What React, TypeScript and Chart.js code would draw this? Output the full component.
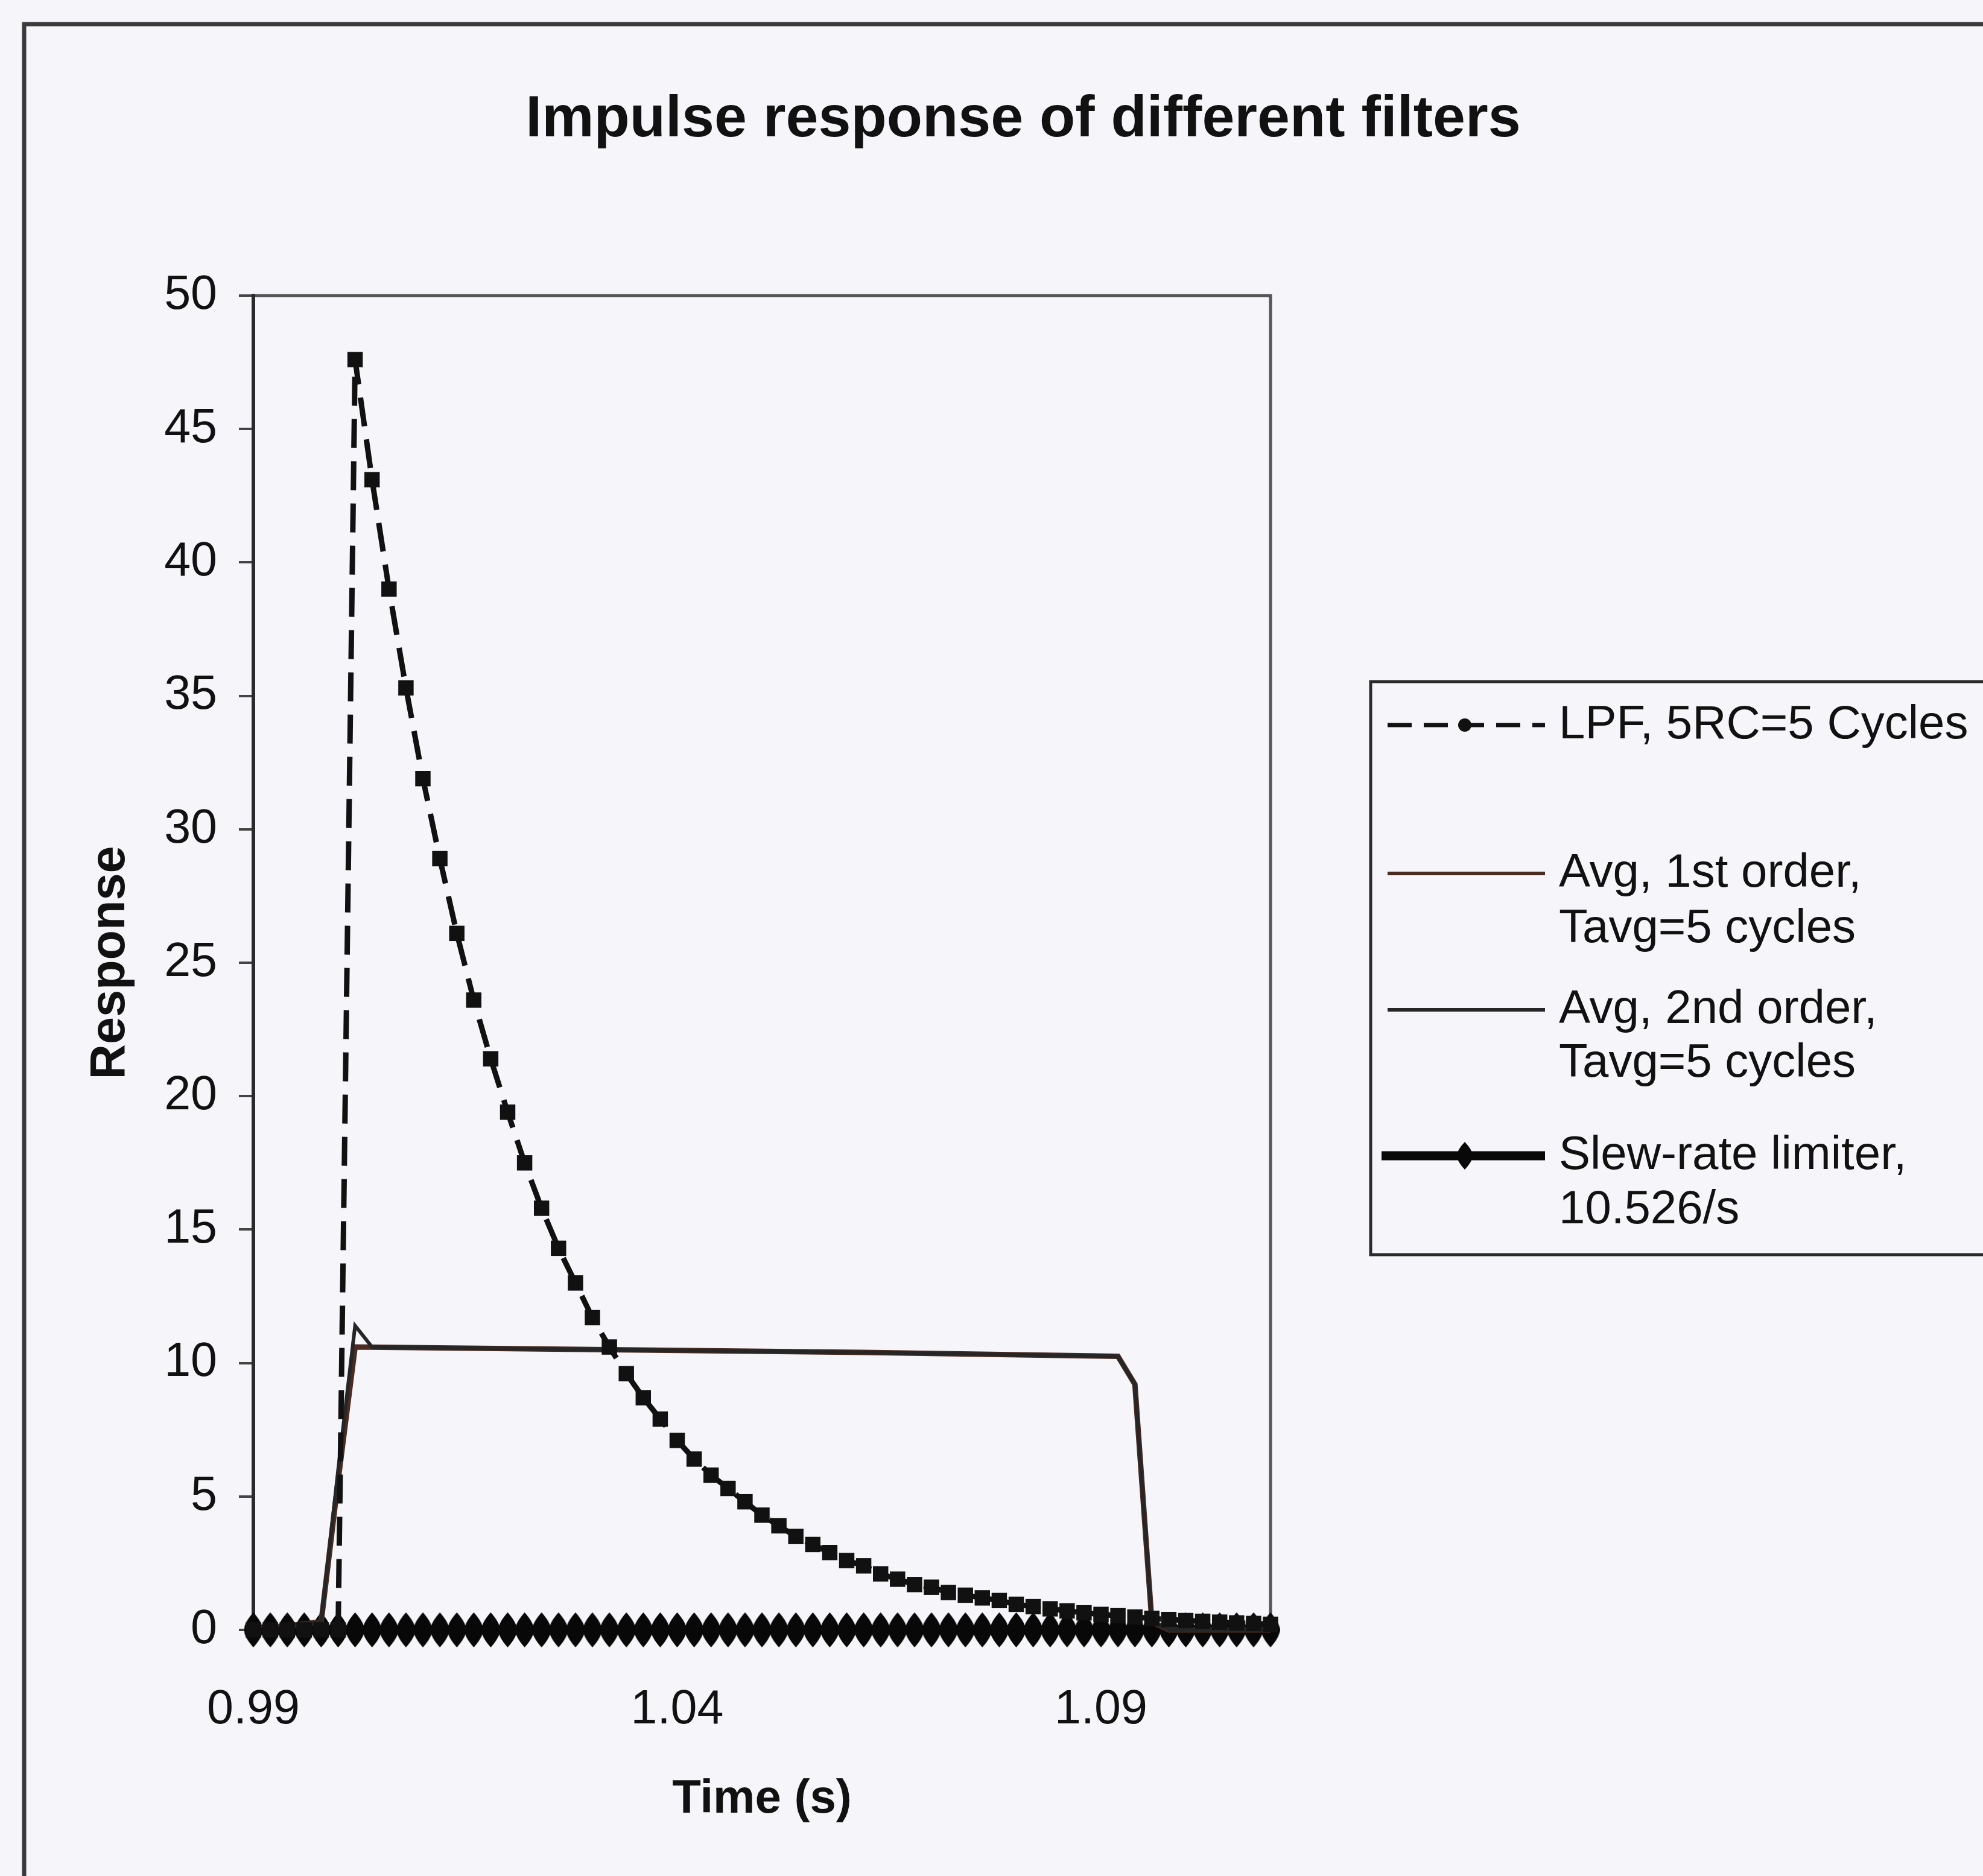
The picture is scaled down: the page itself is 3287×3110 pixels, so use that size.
import React, { useEffect, useRef } from 'react';
import { Chart, registerables } from 'chart.js';

Chart.register(...registerables);

const FONT = '"Liberation Sans", Arial, sans-serif';

// Time categories (s), one sample every 2 ms
const timeCategories = [
  0.990, 0.992, 0.994, 0.996, 0.998, 1.000, 1.002, 1.004, 1.006, 1.008,
  1.010, 1.012, 1.014, 1.016, 1.018, 1.020, 1.022, 1.024, 1.026, 1.028,
  1.030, 1.032, 1.034, 1.036, 1.038, 1.040, 1.042, 1.044, 1.046, 1.048,
  1.050, 1.052, 1.054, 1.056, 1.058, 1.060, 1.062, 1.064, 1.066, 1.068,
  1.070, 1.072, 1.074, 1.076, 1.078, 1.080, 1.082, 1.084, 1.086, 1.088,
  1.090, 1.092, 1.094, 1.096, 1.098, 1.100, 1.102, 1.104, 1.106, 1.108,
  1.110,
];

// LPF, 5RC = 5 cycles
const lpfValues = [
  0, 0, 0, 0, 0, 0, 47.6, 43.1, 39.0, 35.3,
  31.9, 28.9, 26.1, 23.6, 21.4, 19.4, 17.5, 15.8, 14.3, 13.0,
  11.7, 10.6, 9.6, 8.7, 7.9, 7.1, 6.4, 5.8, 5.3, 4.8,
  4.3, 3.9, 3.5, 3.2, 2.9, 2.6, 2.4, 2.1, 1.9, 1.7,
  1.6, 1.4, 1.3, 1.2, 1.1, 0.96, 0.87, 0.79, 0.71, 0.64,
  0.58, 0.53, 0.48, 0.43, 0.39, 0.35, 0.32, 0.29, 0.26, 0.24,
  0.21,
];

// Slew-rate limiter, 10.526/s
const slewValues = [
  0, 0, 0, 0, 0, 0, 0, 0, 0, 0,
  0, 0, 0, 0, 0, 0, 0, 0, 0, 0,
  0, 0, 0, 0, 0, 0, 0, 0, 0, 0,
  0, 0, 0, 0, 0, 0, 0, 0, 0, 0,
  0, 0, 0, 0, 0, 0, 0, 0, 0, 0,
  0, 0, 0, 0, 0, 0, 0, 0, 0, 0,
  0,
];

// Avg, 1st order (corner points)
const avg1Times = [0.990, 0.998, 1.000, 1.002, 1.032, 1.062, 1.092, 1.094, 1.096, 1.098, 1.110];
const avg1Values = [0, 0.3, 5.6, 10.6, 10.5, 10.4, 10.25, 9.2, 0.3, 0, 0];

// Avg, 2nd order (corner points)
const avg2Times = [0.990, 0.998, 1.000, 1.002, 1.004, 1.032, 1.062, 1.092, 1.094, 1.096, 1.098, 1.110];
const avg2Values = [0, 0.3, 6.0, 11.4, 10.6, 10.5, 10.4, 10.25, 9.2, 0.3, 0, 0];

const xTickValues = [0.99, 1.04, 1.09];
const yTickStep = 5;

const titleText = 'Impulse response of different filters';
const seriesLabels = [
  ['LPF, 5RC=5 Cycles'],
  ['Avg, 1st order,', 'Tavg=5 cycles'],
  ['Avg, 2nd order,', 'Tavg=5 cycles'],
  ['Slew-rate limiter,', '10.526/s'],
];

const COLORS = {
  lpf: '#111111',
  avg1: '#4a2c22',
  avg2: '#262626',
  slew: '#080808',
};

function makeLens(w: number, h: number, color: string) {
  const c = document.createElement('canvas');
  c.width = w;
  c.height = h;
  const g = c.getContext('2d')!;
  g.fillStyle = color;
  g.beginPath();
  g.moveTo(w / 2, 0);
  g.quadraticCurveTo(w, h * 0.3, w, h / 2);
  g.quadraticCurveTo(w, h * 0.7, w / 2, h);
  g.quadraticCurveTo(0, h * 0.7, 0, h / 2);
  g.quadraticCurveTo(0, h * 0.3, w / 2, 0);
  g.closePath();
  g.fill();
  return c;
}

export default function App() {
  const ref = useRef<HTMLCanvasElement>(null);

  useEffect(() => {
    document.body.style.margin = '0';
    const slewMarker = makeLens(31, 58, COLORS.slew);
    const legendSlewMarker = makeLens(26, 46, COLORS.slew);

    const pagePlugin = {
      id: 'pageDecor',
      beforeDraw(chart: any) {
        const ctx = chart.ctx;
        ctx.save();
        ctx.fillStyle = '#f6f6fa';
        ctx.fillRect(0, 0, chart.width, chart.height);
        // outer chart border
        ctx.strokeStyle = '#3a3a3a';
        ctx.lineWidth = 7;
        ctx.beginPath();
        ctx.moveTo(40, 3200);
        ctx.lineTo(40, 40);
        ctx.lineTo(3400, 40);
        ctx.stroke();
        // plot area frame (top / right)
        const a = chart.chartArea;
        ctx.strokeStyle = '#555555';
        ctx.lineWidth = 5;
        ctx.beginPath();
        ctx.moveTo(a.left, a.top);
        ctx.lineTo(a.right, a.top);
        ctx.lineTo(a.right, a.bottom);
        ctx.stroke();
        ctx.restore();
      },
      afterDraw(chart: any) {
        const ctx = chart.ctx;
        ctx.save();
        // title
        ctx.fillStyle = '#111';
        ctx.font = `bold 97px ${FONT}`;
        ctx.textAlign = 'center';
        ctx.textBaseline = 'middle';
        ctx.fillText(titleText, 1696, 199);

        // legend box
        ctx.strokeStyle = '#2a2a2a';
        ctx.lineWidth = 5;
        ctx.strokeRect(2272, 1130, 1300, 950);

        const x0 = 2300;
        const x1 = 2561;
        const xm = 2428;
        // LPF sample
        ctx.strokeStyle = COLORS.lpf;
        ctx.lineWidth = 7;
        ctx.setLineDash([40, 20]);
        ctx.beginPath();
        ctx.moveTo(x0, 1202);
        ctx.lineTo(x1, 1202);
        ctx.stroke();
        ctx.setLineDash([]);
        ctx.fillStyle = COLORS.lpf;
        ctx.beginPath();
        ctx.arc(xm, 1202, 11, 0, Math.PI * 2);
        ctx.fill();
        // Avg 1st
        ctx.strokeStyle = COLORS.avg1;
        ctx.lineWidth = 6;
        ctx.beginPath();
        ctx.moveTo(x0, 1448);
        ctx.lineTo(x1, 1448);
        ctx.stroke();
        // Avg 2nd
        ctx.strokeStyle = COLORS.avg2;
        ctx.beginPath();
        ctx.moveTo(x0, 1674);
        ctx.lineTo(x1, 1674);
        ctx.stroke();
        // Slew
        ctx.strokeStyle = COLORS.slew;
        ctx.lineWidth = 15;
        ctx.beginPath();
        ctx.moveTo(2290, 1916);
        ctx.lineTo(x1, 1916);
        ctx.stroke();
        ctx.drawImage(legendSlewMarker, xm - 13, 1916 - 23);

        // legend texts
        ctx.fillStyle = '#111111';
        ctx.font = `78px ${FONT}`;
        ctx.textAlign = 'left';
        ctx.textBaseline = 'middle';
        const tx = 2584;
        const rows = [[1202], [1448, 1540], [1674, 1763], [1916, 2006]];
        seriesLabels.forEach((lines, i) => {
          lines.forEach((t, j) => ctx.fillText(t, tx, rows[i][j]));
        });
        ctx.restore();
      },
    };

    const chart = new Chart(ref.current!, {
      type: 'line',
      data: {
        datasets: [
          {
            label: seriesLabels[0].join(' '),
            data: timeCategories.map((t, i) => ({ x: t, y: lpfValues[i] })),
            borderColor: COLORS.lpf,
            borderWidth: 9,
            borderDash: [48, 22],
            pointStyle: 'rect',
            pointRadius: 18,
            pointBackgroundColor: COLORS.lpf,
            pointBorderColor: COLORS.lpf,
            pointBorderWidth: 0,
            tension: 0,
            clip: false,
            order: 0,
          },
          {
            label: seriesLabels[1].join(' '),
            data: avg1Times.map((t, i) => ({ x: t, y: avg1Values[i] })),
            borderColor: COLORS.avg1,
            borderWidth: 9,
            pointRadius: 0,
            tension: 0,
            clip: false,
            order: 2,
          },
          {
            label: seriesLabels[2].join(' '),
            data: avg2Times.map((t, i) => ({ x: t, y: avg2Values[i] })),
            borderColor: COLORS.avg2,
            borderWidth: 6,
            pointRadius: 0,
            tension: 0,
            clip: false,
            order: 1,
          },
          {
            label: seriesLabels[3].join(' '),
            data: timeCategories.map((t, i) => ({ x: t, y: slewValues[i] })),
            borderColor: COLORS.slew,
            borderWidth: 15,
            pointStyle: slewMarker as any,
            pointRadius: 14,
            tension: 0,
            clip: false,
            order: 3,
          },
        ],
      },
      options: {
        animation: false,
        responsive: false,
        devicePixelRatio: 1,
        layout: { padding: { left: 0, top: 490, right: 1181, bottom: 78 } },
        plugins: {
          legend: { display: false },
          title: { display: false },
          tooltip: { enabled: false },
        },
        scales: {
          x: {
            type: 'linear',
            min: 0.99,
            max: 1.11,
            afterBuildTicks(scale: any) {
              scale.ticks = xTickValues.map((v) => ({ value: v }));
            },
            afterFit(scale: any) {
              scale.height = 330;
            },
            ticks: {
              autoSkip: false,
              maxRotation: 0,
              padding: 66,
              color: '#111111',
              font: { size: 79, family: FONT },
              callback: (v: any) => Number(v).toFixed(2),
            },
            grid: { drawOnChartArea: false, drawTicks: true, tickLength: 20, color: '#444', lineWidth: 4 },
            border: { display: true, color: '#2a2a2a', width: 4 },
            title: {
              display: true,
              text: 'Time (s)',
              color: '#111',
              font: { size: 78, weight: 'bold', family: FONT },
              padding: { top: 0, bottom: 2 },
            },
          },
          y: {
            min: 0,
            max: 50,
            afterFit(scale: any) {
              scale.width = 420;
            },
            ticks: {
              stepSize: yTickStep,
              padding: 36,
              color: '#111111',
              font: { size: 79, family: FONT },
            },
            grid: { drawOnChartArea: false, drawTicks: true, tickLength: 24, color: '#444', lineWidth: 4 },
            border: { display: true, color: '#2a2a2a', width: 6 },
            title: {
              display: true,
              text: 'Response',
              color: '#111',
              font: { size: 81, weight: 'bold', family: FONT },
              padding: { top: 135, bottom: 0 },
            },
          },
        },
      },
      plugins: [pagePlugin],
    } as any);

    return () => chart.destroy();
  }, []);

  return (
    <div style={{ width: 3287, height: 3110, position: 'relative', overflow: 'hidden' }}>
      <canvas ref={ref} width={3287} height={3110} style={{ display: 'block', width: 3287, height: 3110 }} />
    </div>
  );
}
